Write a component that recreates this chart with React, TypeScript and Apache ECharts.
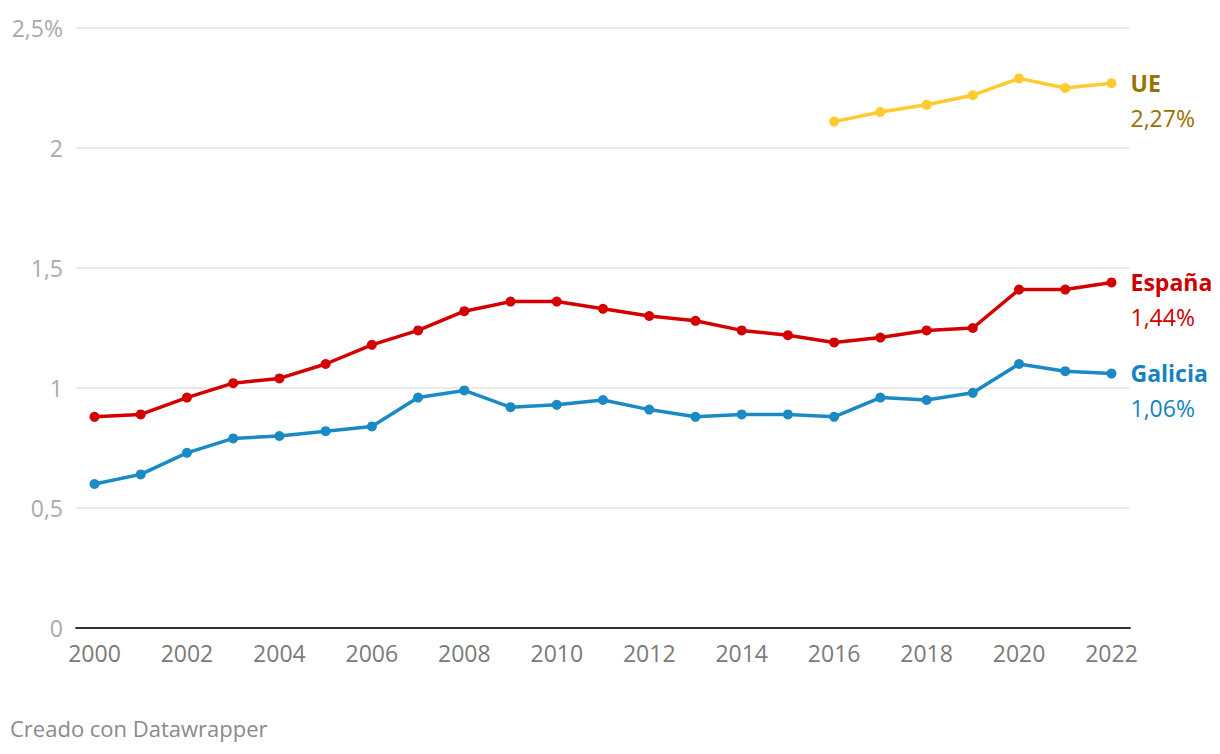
import React, { useEffect, useRef } from "react";
import * as echarts from "echarts";

const years = [2000, 2001, 2002, 2003, 2004, 2005, 2006, 2007, 2008, 2009, 2010, 2011, 2012, 2013, 2014, 2015, 2016, 2017, 2018, 2019, 2020, 2021, 2022];
const espana = [0.88, 0.89, 0.96, 1.02, 1.04, 1.10, 1.18, 1.24, 1.32, 1.36, 1.36, 1.33, 1.30, 1.28, 1.24, 1.22, 1.19, 1.21, 1.24, 1.25, 1.41, 1.41, 1.44];
const galicia = [0.60, 0.64, 0.73, 0.79, 0.80, 0.82, 0.84, 0.96, 0.99, 0.92, 0.93, 0.95, 0.91, 0.88, 0.89, 0.89, 0.88, 0.96, 0.95, 0.98, 1.10, 1.07, 1.06];
const ueYears = [2016, 2017, 2018, 2019, 2020, 2021, 2022];
const ue = [2.11, 2.15, 2.18, 2.22, 2.29, 2.25, 2.27];
const xTicks = [2000, 2002, 2004, 2006, 2008, 2010, 2012, 2014, 2016, 2018, 2020, 2022];
const yTicks = [0, 0.5, 1, 1.5, 2, 2.5];

const FONT = "'Open Sans', 'Noto Sans', sans-serif";

function fmt(v: number) {
  return v.toFixed(2).replace(".", ",") + "%";
}

function mkSeries(name: string, xs: number[], ys: number[], lineColor: string, textColor: string) {
  return {
    name,
    type: "line",
    data: xs.map((x, i) => [x, ys[i]]),
    symbol: "circle",
    symbolSize: 10,
    lineStyle: { color: lineColor, width: 3.5 },
    itemStyle: { color: lineColor },
    endLabel: {
      show: true,
      distance: 19,
      offset: [0, 17],
      formatter: (p: any) => `{n|${name}}\n{v|${fmt(p.value[1])}}`,
      rich: {
        n: { fontFamily: FONT, fontSize: 23, fontWeight: "bold", color: textColor, lineHeight: 35 },
        v: { fontFamily: FONT, fontSize: 23, color: textColor, lineHeight: 35 },
      },
    },
    emphasis: { disabled: true },
  };
}

export default function App() {
  const ref = useRef<HTMLDivElement>(null);
  useEffect(() => {
    document.body.style.margin = "0";
    const chart = echarts.init(ref.current!, null, { renderer: "svg" });
    chart.setOption({
      animation: false,
      backgroundColor: "#ffffff",
      grid: { left: 76, right: 90, top: 28, bottom: 126 },
      xAxis: {
        type: "value",
        min: 1999.6,
        max: 2022.4,
        splitLine: { show: false },
        axisTick: { show: false },
        axisLine: { show: true, lineStyle: { color: "#333333", width: 2 } },
        axisLabel: {
          customValues: xTicks,
          formatter: (v: number) => String(v),
          color: "#7a7a7a",
          fontFamily: FONT,
          fontSize: 23,
          margin: 13,
        },
      },
      yAxis: {
        type: "value",
        min: 0,
        max: 2.5,
        interval: 0.5,
        axisLine: { show: false },
        axisTick: { show: false },
        splitLine: { lineStyle: { color: "#e2e2e2", width: 1.5 } },
        axisLabel: {
          customValues: yTicks,
          formatter: (v: number) => (v === 2.5 ? "2,5%" : String(v).replace(".", ",")),
          color: "#aaaaaa",
          fontFamily: FONT,
          fontSize: 23,
          margin: 13,
        },
      },
      series: [
        mkSeries("UE", ueYears, ue, "#fdcb2f", "#9a7100"),
        mkSeries("España", years, espana, "#d40000", "#cc0000"),
        mkSeries("Galicia", years, galicia, "#1a8ac4", "#1583c0"),
      ],
      graphic: [
        {
          type: "text",
          left: 10,
          top: 717,
          style: { text: "Creado con Datawrapper", fill: "#8a8a8a", font: `22px ${FONT}` },
        },
      ],
    });
    return () => chart.dispose();
  }, []);
  return <div ref={ref} style={{ width: 1220, height: 754 }} />;
}
